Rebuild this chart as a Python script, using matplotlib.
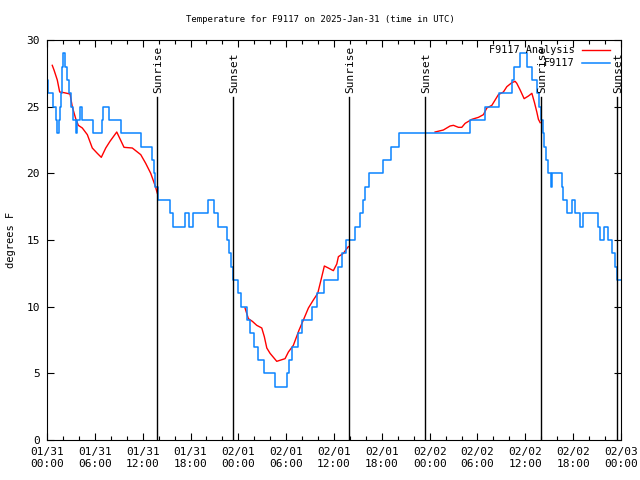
import matplotlib
matplotlib.use("Agg")
import matplotlib.pyplot as plt
from matplotlib.ticker import MultipleLocator
import numpy as np

# Observed temperature (hours since 01/31 00:00 UTC, deg F), held until next change
obs_hours = [0.00, 0.16, 0.79, 1.09, 1.29, 1.45, 1.65, 1.77, 1.90, 2.05,
             2.26, 2.47, 2.80, 3.01, 3.26, 3.64, 3.80, 4.14, 4.39, 5.81,
             6.86, 7.03, 7.82, 9.25, 11.79, 13.14, 13.40, 13.60, 13.95, 15.43,
             15.77, 17.36, 17.81, 18.36, 20.16, 20.99, 21.49, 22.55, 22.84, 23.09,
             23.30, 24.00, 24.34, 25.03, 25.47, 25.97, 26.47, 27.26, 28.61, 30.05,
             30.36, 30.74, 31.49, 32.00, 33.21, 33.84, 34.79, 36.47, 36.98, 37.52,
             38.64, 39.27, 39.69, 39.90, 40.44, 42.20, 43.12, 44.20, 53.07, 54.96,
             56.71, 58.31, 58.59, 59.28, 60.26, 60.82, 61.44, 61.73, 61.92, 62.17,
             62.36, 62.61, 62.90, 63.20, 63.40, 64.55, 64.78, 65.21, 65.91, 66.25,
             66.88, 67.29, 69.07, 69.39, 69.89, 70.43, 70.85, 71.27, 71.56, 72.0]
obs_temps = [27, 26, 25, 24, 23, 24, 25, 26, 28, 29,
             28, 27, 26, 25, 24, 23, 24, 25, 24, 23,
             24, 25, 24, 23, 22, 21, 20, 19, 18, 17,
             16, 17, 16, 17, 18, 17, 16, 15, 14, 13,
             12, 11, 10, 9, 8, 7, 6, 5, 4, 5,
             6, 7, 8, 9, 10, 11, 12, 13, 14, 15,
             16, 17, 18, 19, 20, 21, 22, 23, 24, 25,
             26, 27, 28, 29, 28, 27, 26, 25, 24, 23,
             22, 21, 20, 19, 20, 19, 18, 17, 18, 17,
             16, 17, 16, 15, 16, 15, 14, 13, 12, 12]

# Analysis (only available overnight)
ana1_hours = [0.66, 0.88, 1.29, 1.59, 2.13, 2.89, 3.17, 3.60, 3.93, 4.43, 5.06, 5.68,
              6.31, 6.81, 7.37, 7.90, 8.75, 9.66, 10.70, 11.76, 12.38, 13.01, 13.55, 13.84]
ana1_temps = [28.1, 27.75, 27.0, 26.1, 26.05, 25.95, 25.0, 24.1, 23.6, 23.4, 22.9, 21.9,
              21.5, 21.2, 21.9, 22.4, 23.1, 21.95, 21.9, 21.4, 20.75, 20.0, 19.1, 18.5]
ana2_hours = [24.84, 25.26, 25.76, 26.31, 26.94, 27.26, 27.57, 27.98, 28.82, 29.86, 30.28,
              30.90, 31.62, 32.16, 32.79, 33.41, 33.96, 34.47, 34.79, 35.29, 35.92, 36.35,
              36.55, 37.18, 37.48, 37.80]
ana2_temps = [9.9, 9.1, 8.9, 8.6, 8.4, 7.75, 6.9, 6.5, 5.9, 6.1, 6.6,
              7.1, 8.25, 9.0, 9.9, 10.5, 11.0, 12.25, 13.05, 12.9, 12.7, 13.2,
              13.75, 14.0, 14.25, 14.5]
ana3_hours = [48.68, 49.72, 50.56, 50.98, 51.61, 52.03, 52.45, 53.29, 54.12, 54.74, 55.17,
              55.80, 56.21, 56.62, 57.25, 57.68, 58.31, 58.72, 58.93, 59.35, 59.85, 60.39,
              60.82, 61.15, 61.44, 61.64, 61.86]
ana3_temps = [23.1, 23.25, 23.55, 23.6, 23.45, 23.45, 23.75, 24.05, 24.2, 24.4, 24.9,
              25.1, 25.5, 25.9, 26.1, 26.5, 26.8, 26.9, 26.75, 26.25, 25.6, 25.8,
              26.0, 25.3, 24.6, 24.05, 23.8]

sun_hours = [13.80, 23.34, 37.89, 47.43, 61.98, 71.52]
sun_labels = ["Sunrise", "Sunset", "Sunrise", "Sunset", "Sunrise", "Sunset"]

tick_hours = list(range(0, 73, 6))
tick_labels = ["01/31\n00:00", "01/31\n06:00", "01/31\n12:00", "01/31\n18:00",
               "02/01\n00:00", "02/01\n06:00", "02/01\n12:00", "02/01\n18:00",
               "02/02\n00:00", "02/02\n06:00", "02/02\n12:00", "02/02\n18:00",
               "02/03\n00:00"]

RED = "#ff0000"
BLUE = "#0a84ff"
FONT = "DejaVu Sans Mono"
plt.rcParams["font.family"] = FONT
plt.rcParams["font.size"] = 8

fig = plt.figure(figsize=(6.4, 4.8), dpi=100, facecolor="white")
ax = fig.add_axes([47 / 640, 40 / 480, 574 / 640, 400 / 480])

ax.plot(ana1_hours, ana1_temps, color=RED, lw=1, label="F9117 Analysis")
ax.plot(ana2_hours, ana2_temps, color=RED, lw=1)
ax.plot(ana3_hours, ana3_temps, color=RED, lw=1)
ax.plot(obs_hours, obs_temps, color=BLUE, lw=1.1, drawstyle="steps-post", label="F9117")

# sunrise / sunset markers
for h, lab in zip(sun_hours, sun_labels):
    ax.plot([h, h], [0, 25.7], color="black", lw=1)
    ax.text(h + 0.1, 26.0, lab, rotation=90, ha="center", va="bottom", fontsize=8)

ax.set_xlim(0, 72)
ax.set_ylim(0, 30)
ax.set_xticks(tick_hours)
ax.set_xticklabels(tick_labels)
ax.xaxis.set_minor_locator(MultipleLocator(2))
ax.set_yticks(np.arange(0, 31, 5))
ax.tick_params(which="both", direction="in", top=True, right=True, pad=5)
ax.tick_params(which="major", length=5, width=0.8)
ax.tick_params(which="minor", length=3, width=0.8)
for s in ax.spines.values():
    s.set_linewidth(0.8)

ax.legend(loc="upper right", bbox_to_anchor=(0.981, 0.987), frameon=False,
          markerfirst=False, handlelength=2.8, handletextpad=0.7,
          labelspacing=0.32, borderpad=0, borderaxespad=0, fontsize=7.3)

fig.text(0.5, 1 - 20 / 480, "Temperature for F9117 on 2025-Jan-31 (time in UTC)",
         ha="center", va="center", fontsize=6.5)
fig.text(11 / 640, 0.5, "degrees F", rotation=90, ha="center", va="center", fontsize=7.5)

fig.savefig("out.png", dpi=100, facecolor="white")
